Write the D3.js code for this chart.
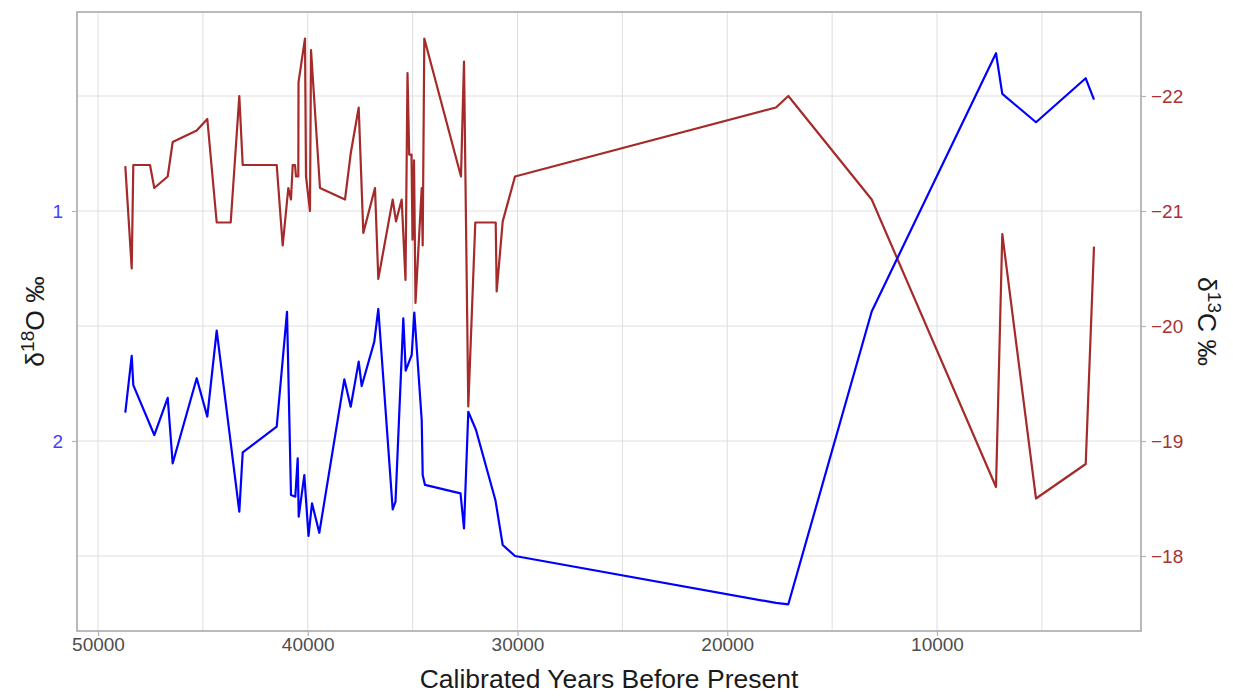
<!DOCTYPE html>
<html><head><meta charset="utf-8">
<script src="https://cdn.jsdelivr.net/npm/d3@7/dist/d3.min.js"></script>
<style>body{margin:0;background:#fff}svg{display:block}</style>
</head><body>
<svg id="c" width="1233" height="696"></svg>
<script>
// δ13C series (right axis)
const yearsC = [48698,48393,48317,47521,47316,46677,46439,45294,44789,44341,43673,43263,43101,41480,41194,40927,40799,40717,40608,40560,40450,40440,40131,40083,39893,39845,39416,38224,37952,37571,37351,36794,36636,35950,35793,35521,35340,35244,35163,35053,35006,34934,34863,34567,34520,34443,32694,32551,32346,32012,31039,30992,30705,30119,17676,17089,13113,7187,6887,5280,2910,2515];
const d13C = [-21.39,-20.50,-21.40,-21.40,-21.20,-21.30,-21.60,-21.70,-21.80,-20.90,-20.90,-22.00,-21.40,-21.40,-20.70,-21.20,-21.10,-21.40,-21.40,-21.30,-21.30,-22.12,-22.50,-21.30,-21.00,-22.40,-21.20,-21.10,-21.50,-21.90,-20.81,-21.20,-20.41,-21.10,-20.91,-21.10,-20.40,-22.20,-21.49,-21.49,-20.75,-21.44,-20.20,-21.20,-20.70,-22.50,-21.30,-22.30,-19.30,-20.90,-20.90,-20.30,-20.91,-21.30,-21.90,-22.00,-21.10,-18.60,-20.80,-18.50,-18.80,-20.69];

// δ18O series (left axis)
const yearsO = [48698,48393,48317,47316,46677,46439,45294,44789,44341,43263,43101,41480,40989,40799,40593,40479,40431,40164,39964,39797,39449,38257,37952,37571,37428,36827,36636,35950,35816,35444,35330,35044,34920,34567,34520,34410,32717,32551,32346,31978,31049,30705,30119,17676,17089,13113,7187,6887,5280,2910,2515];
const d18O = [1.877,1.630,1.757,1.974,1.812,2.097,1.727,1.894,1.520,2.307,2.049,1.938,1.438,2.235,2.242,2.075,2.329,2.148,2.413,2.271,2.399,1.732,1.851,1.655,1.761,1.568,1.426,2.297,2.264,1.467,1.694,1.626,1.442,1.909,2.148,2.191,2.228,2.380,1.873,1.952,2.259,2.452,2.500,2.704,2.710,1.437,0.314,0.491,0.614,0.423,0.516];

const xTicks = [50000,40000,30000,20000,10000];
const xGrid = [50000,45000,40000,35000,30000,25000,20000,15000,10000,5000];
const leftTicks = [1,2];
const rightTicks = [-22,-21,-20,-19,-18];

const P = {l:77, r:1141, t:12, b:631};
const svg = d3.select("#c");

const x = d3.scaleLinear().domain([50000,10000]).range([98,937]);
const yL = d3.scaleLinear().domain([1,2]).range([211,441]);
const yR = d3.scaleLinear().domain([-21,-19]).range([211,441]);

const grid = svg.append("g");
grid.selectAll("line.v").data(xGrid).join("line")
  .attr("x1",d=>x(d)).attr("x2",d=>x(d)).attr("y1",P.t).attr("y2",P.b)
  .attr("stroke","#dedede").attr("stroke-width",1);
grid.selectAll("line.h").data(rightTicks).join("line")
  .attr("y1",d=>yR(d)).attr("y2",d=>yR(d)).attr("x1",P.l).attr("x2",P.r)
  .attr("stroke","#dedede").attr("stroke-width",1);

const lineC = d3.line().x((d,i)=>x(yearsC[i])).y(d=>yR(d));
const lineO = d3.line().x((d,i)=>x(yearsO[i])).y(d=>yL(d));

svg.append("path").datum(d13C).attr("d",lineC)
  .attr("fill","none").attr("stroke","#a52a2a").attr("stroke-width",2.2).attr("stroke-linejoin","round");
svg.append("path").datum(d18O).attr("d",lineO)
  .attr("fill","none").attr("stroke","#0000ff").attr("stroke-width",2.2).attr("stroke-linejoin","round");

svg.append("rect").attr("x",P.l).attr("y",P.t).attr("width",P.r-P.l).attr("height",P.b-P.t)
  .attr("fill","none").attr("stroke","#b3b3b3").attr("stroke-width",1.8);

const font = "Liberation Sans, Arial, sans-serif";
const tickFs = "19px";

// x axis
const xa = svg.append("g").attr("transform",`translate(0,${P.b})`)
  .call(d3.axisBottom(x).tickValues(xTicks).tickFormat(d3.format("d")).tickSize(5).tickPadding(2));
xa.select(".domain").remove();
xa.selectAll(".tick line").attr("stroke","#b3b3b3").attr("stroke-width",1.2);
xa.selectAll(".tick text").attr("fill","#4d4d4d").style("font-family",font).style("font-size",tickFs);

// left axis
const la = svg.append("g").attr("transform",`translate(${P.l},0)`)
  .call(d3.axisLeft(yL).tickValues(leftTicks).tickFormat(d3.format("d")).tickSize(5).tickPadding(9));
la.select(".domain").remove();
la.selectAll(".tick line").attr("stroke","#b3b3b3").attr("stroke-width",1.2);
la.selectAll(".tick text").attr("fill","#4040ff").style("font-family",font).style("font-size",tickFs);

// right axis
const ra = svg.append("g").attr("transform",`translate(${P.r},0)`)
  .call(d3.axisRight(yR).tickValues(rightTicks).tickFormat(d3.format("d")).tickSize(5).tickPadding(5));
ra.select(".domain").remove();
ra.selectAll(".tick line").attr("stroke","#b3b3b3").attr("stroke-width",1.2);
ra.selectAll(".tick text").attr("fill","#a83232").style("font-family",font).style("font-size",tickFs);

// titles
const titleFs = "26.5px";
svg.append("text").attr("x",(P.l+P.r)/2).attr("y",688).attr("text-anchor","middle")
  .style("font-family",font).style("font-size",titleFs).attr("fill","#1a1a1a")
  .text("Calibrated Years Before Present");

const lt = svg.append("text").attr("transform",`translate(44,${(P.t+P.b)/2}) rotate(-90)`)
  .attr("text-anchor","middle").style("font-family",font).style("font-size",titleFs).attr("fill","#1a1a1a");
lt.append("tspan").text("δ");
lt.append("tspan").attr("dy",-10).style("font-size","19px").text("18");
lt.append("tspan").attr("dy",10).text("O ‰");

const rt = svg.append("text").attr("transform",`translate(1198,${(P.t+P.b)/2}) rotate(90)`)
  .attr("text-anchor","middle").style("font-family",font).style("font-size",titleFs).attr("fill","#1a1a1a");
rt.append("tspan").text("δ");
rt.append("tspan").attr("dy",-10).style("font-size","19px").text("13");
rt.append("tspan").attr("dy",10).text("C ‰");
</script>
</body></html>
